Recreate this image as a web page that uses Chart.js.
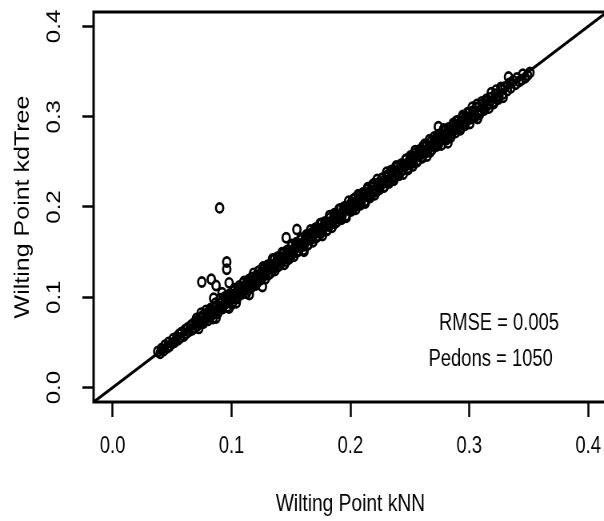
<!DOCTYPE html>
<html>
<head>
<meta charset="utf-8">
<script src="https://cdn.jsdelivr.net/npm/chart.js@4/dist/chart.umd.min.js"></script>
<style>
  html, body { margin: 0; padding: 0; background: #fff; }
  #wrap { width: 604px; height: 521px; overflow: hidden; position: relative; }
</style>
</head>
<body>
<!-- the reference is squeezed sideways, so draw wide and shrink it -->
<div id="wrap"><canvas id="chart" width="775" height="521" style="width:620px;height:521px;display:block"></canvas></div>
<script>
// axis ranges and ticks (R style, 4% padding around 0..0.4)
const xMin = -0.016, xMax = 0.416;
const yMin = -0.016, yMax = 0.416;
const xTicks = [0.0, 0.1, 0.2, 0.3, 0.4];
const yTicks = [0.0, 0.1, 0.2, 0.3, 0.4];

// wilting point, kNN (x) vs kdTree (y)
const kNN = [
  0.038,0.040,0.041,0.043,0.044,0.046,0.047,0.048,0.050,0.051,0.052,0.054,0.055,0.056,0.057,0.058,0.060,0.061,0.062,0.063,0.064,0.066,0.067,0.068,0.069,
  0.070,0.071,0.072,0.073,0.074,0.075,0.076,0.077,0.078,0.079,0.080,0.081,0.082,0.083,0.084,0.085,0.086,0.087,0.088,0.089,0.090,0.091,0.092,0.093,0.094,0.095,0.096,0.097,0.098,0.099,
  0.100,0.101,0.102,0.103,0.104,0.105,0.106,0.107,0.108,0.109,0.110,0.111,0.112,0.113,0.114,0.115,0.116,0.117,0.118,0.119,
  0.120,0.121,0.122,0.123,0.124,0.125,0.126,0.127,0.128,0.129,0.130,0.131,0.132,0.133,0.134,0.135,0.136,0.137,0.138,0.139,
  0.140,0.141,0.142,0.143,0.144,0.145,0.146,0.147,0.148,0.149,0.150,0.151,0.152,0.153,0.154,0.155,0.156,0.157,0.158,0.159,
  0.160,0.161,0.162,0.163,0.164,0.165,0.166,0.167,0.168,0.169,0.170,0.171,0.172,0.173,0.174,0.175,0.176,0.177,0.178,0.179,
  0.180,0.181,0.182,0.183,0.184,0.185,0.186,0.187,0.188,0.189,0.190,0.191,0.192,0.193,0.194,0.195,0.196,0.197,0.198,0.199,
  0.200,0.201,0.202,0.203,0.204,0.205,0.206,0.207,0.208,0.209,0.210,0.211,0.212,0.213,0.214,0.215,0.216,0.217,0.218,0.219,
  0.220,0.221,0.222,0.223,0.224,0.225,0.226,0.227,0.228,0.229,0.230,0.231,0.232,0.233,0.234,0.235,0.236,0.237,0.238,0.239,
  0.240,0.241,0.242,0.243,0.244,0.245,0.246,0.247,0.248,0.249,0.250,0.251,0.252,0.253,0.254,0.255,0.256,0.257,0.258,0.259,
  0.260,0.261,0.262,0.263,0.264,0.265,0.266,0.267,0.268,0.269,0.270,0.271,0.272,0.273,0.274,0.275,0.276,0.277,0.278,0.279,
  0.280,0.281,0.282,0.283,0.284,0.285,0.286,0.287,0.288,0.289,0.290,0.291,0.292,0.293,0.294,0.295,0.296,0.297,0.298,0.299,
  0.300,0.302,0.303,0.305,0.306,0.308,0.309,0.311,0.312,0.314,0.315,0.317,0.318,0.320,0.322,0.323,0.325,0.327,0.328,0.330,
  0.332,0.334,0.335,0.337,0.339,0.340,0.342,0.344,0.345,0.347,0.349,0.351
];
const kdTree = [
  0.040,0.038,0.043,0.041,0.047,0.044,0.050,0.046,0.049,0.054,0.050,0.056,0.053,0.059,0.055,0.061,0.057,0.064,0.060,0.066,0.062,0.069,0.064,0.071,0.066,
  0.073,0.068,0.075,0.071,0.077,0.072,0.080,0.074,0.076,0.082,0.078,0.084,0.080,0.086,0.081,0.083,0.089,0.085,0.091,0.087,0.093,0.088,0.095,0.090,0.092,0.098,0.094,0.100,0.096,0.097,
  0.103,0.099,0.107,0.099,0.105,0.100,0.110,0.106,0.110,0.106,0.116,0.108,0.112,0.117,0.108,0.117,0.114,0.122,0.114,0.120,
  0.119,0.124,0.117,0.129,0.122,0.127,0.122,0.131,0.128,0.126,0.135,0.125,0.133,0.136,0.133,0.131,0.142,0.135,0.140,0.134,
  0.144,0.141,0.139,0.144,0.149,0.143,0.140,0.150,0.147,0.151,0.146,0.157,0.149,0.154,0.158,0.150,0.156,0.159,0.156,0.164,
  0.159,0.157,0.165,0.169,0.158,0.166,0.164,0.171,0.165,0.171,0.175,0.166,0.172,0.176,0.173,0.171,0.182,0.175,0.179,0.183,
  0.174,0.183,0.179,0.188,0.184,0.183,0.189,0.182,0.192,0.188,0.191,0.187,0.198,0.190,0.196,0.200,0.190,0.197,0.201,0.197,
  0.198,0.205,0.197,0.204,0.210,0.202,0.208,0.206,0.213,0.205,0.210,0.214,0.206,0.215,0.212,0.220,0.217,0.213,0.222,0.216,
  0.226,0.220,0.217,0.225,0.227,0.223,0.226,0.232,0.222,0.230,0.227,0.235,0.234,0.228,0.240,0.234,0.232,0.240,0.238,0.237,
  0.245,0.235,0.243,0.247,0.241,0.247,0.245,0.253,0.243,0.249,0.253,0.249,0.256,0.249,0.255,0.260,0.250,0.259,0.257,0.262,
  0.255,0.267,0.262,0.260,0.268,0.263,0.267,0.261,0.273,0.268,0.272,0.267,0.275,0.279,0.269,0.275,0.274,0.281,0.279,0.276,
  0.285,0.280,0.276,0.286,0.286,0.281,0.290,0.287,0.286,0.295,0.287,0.292,0.287,0.295,0.299,0.294,0.292,0.300,0.298,0.297,
  0.304,0.298,0.306,0.301,0.310,0.305,0.307,0.314,0.309,0.317,0.312,0.315,0.321,0.316,0.325,0.320,0.323,0.330,0.325,0.333,
  0.329,0.337,0.332,0.340,0.336,0.343,0.339,0.341,0.347,0.343,0.346,0.349
];
// pedons on the outer edges of the band
const edgeKNN = [
  0.0705,0.0725,0.0745,0.0765,0.0785,0.0805,0.0825,0.0845,0.0865,0.0885,
  0.0905,0.0925,0.0945,0.0965,0.0985,0.1005,0.1025,0.1045,0.1065,0.1085,
  0.1105,0.1125,0.1145,0.1165,0.1185,0.1205,0.1225,0.1245,0.1265,0.1285,
  0.1305,0.1325,0.1345,0.1365,0.1385,0.1405,0.1425,0.1445,0.1465,0.1485,
  0.1505,0.1525,0.1545,0.1565,0.1585,0.1605,0.1625,0.1645,0.1665,0.1685,
  0.1705,0.1725,0.1745,0.1765,0.1785,0.1805,0.1825,0.1845,0.1865,0.1885,
  0.1905,0.1925,0.1945,0.1965,0.1985,0.2005,0.2025,0.2045,0.2065,0.2085,
  0.2105,0.2125,0.2145,0.2165,0.2185,0.2205,0.2225,0.2245,0.2265,0.2285,
  0.2305,0.2325,0.2345,0.2365,0.2385,0.2405,0.2425,0.2445,0.2465,0.2485,
  0.2505,0.2525,0.2545,0.2565,0.2585,0.2605,0.2625,0.2645,0.2665,0.2685,
  0.2705,0.2725,0.2745,0.2765,0.2785,0.2805,0.2825,0.2845,0.2865,0.2885,
  0.2905,0.2925,0.2945,0.2965,0.2985,0.3005,0.3025,0.3045,0.3065,0.3085,
  0.3105,0.3125,0.3145,0.3165,0.3185,0.3205,0.3225,0.3245,0.3265,0.3285
];
const edgeKdTree = [
  0.0765,0.0655,0.0825,0.0715,0.0855,0.0745,0.0875,0.0765,0.0935,0.0825,
  0.0985,0.0875,0.1005,0.0895,0.1035,0.0925,0.1095,0.0985,0.1125,0.1035,
  0.1175,0.1045,0.1195,0.1105,0.1265,0.1135,0.1285,0.1195,0.1335,0.1205,
  0.1355,0.1265,0.1425,0.1295,0.1445,0.1355,0.1495,0.1365,0.1515,0.1425,
  0.1585,0.1455,0.1605,0.1515,0.1655,0.1525,0.1675,0.1585,0.1745,0.1615,
  0.1765,0.1675,0.1815,0.1685,0.1835,0.1745,0.1905,0.1775,0.1925,0.1835,
  0.1975,0.1865,0.1995,0.1885,0.2065,0.1955,0.2085,0.1975,0.2135,0.2025,
  0.2155,0.2045,0.2215,0.2105,0.2245,0.2135,0.2305,0.2195,0.2315,0.2225,
  0.2385,0.2265,0.2405,0.2295,0.2455,0.2355,0.2475,0.2365,0.2525,0.2415,
  0.2565,0.2455,0.2625,0.2515,0.2635,0.2545,0.2695,0.2565,0.2745,0.2635,
  0.2775,0.2675,0.2805,0.2685,0.2865,0.2745,0.2875,0.2775,0.2925,0.2825,
  0.2955,0.2855,0.3015,0.2905,0.3045,0.2925,0.3105,0.2995,0.3135,0.3025,
  0.3165,0.3075,0.3195,0.3095,0.3265,0.3145,0.3295,0.3195,0.3325,0.3215
];
// points well off the band
const outlierKNN    = [0.090,0.096,0.096,0.075,0.083,0.087,0.098,0.085,0.087,0.098,0.115,0.126,0.146,0.155,0.161,0.274,0.282,0.307,0.333,0.092,0.104];
const outlierKdTree = [0.199,0.139,0.131,0.117,0.120,0.113,0.116,0.099,0.077,0.088,0.103,0.112,0.166,0.175,0.151,0.289,0.271,0.298,0.344,0.105,0.094];

// 1:1 line ends (clipped to the plot box)
const oneToOne = [-0.05, 0.45];

const noteText = ["RMSE = 0.005", "Pedons = 1050"];
const noteX = [0.325, 0.318];
const noteY = [0.071, 0.031];

const FONT = "'Liberation Sans', Arial, Helvetica, sans-serif";

const allX = kNN.concat(edgeKNN, outlierKNN);
const allY = kdTree.concat(edgeKdTree, outlierKdTree);
const points = allX.map((x, i) => ({ x: x, y: allY[i] }));

// box round the plot, like R's box()
const boxPlugin = {
  id: "box",
  afterDatasetsDraw(chart) {
    const a = chart.chartArea, ctx = chart.ctx;
    ctx.save();
    ctx.strokeStyle = "#000";
    ctx.lineWidth = 3;
    ctx.strokeRect(a.left, a.top, a.right - a.left, a.bottom - a.top);
    ctx.restore();
  }
};

// rotated y tick labels and the two notes
const textPlugin = {
  id: "texts",
  afterDraw(chart) {
    const ctx = chart.ctx, ys = chart.scales.y, xs = chart.scales.x;
    ctx.save();
    ctx.fillStyle = "#000";
    ctx.textAlign = "center";
    ctx.textBaseline = "middle";
    ctx.font = "24px " + FONT;
    ys.ticks.forEach(t => {
      ctx.save();
      ctx.translate(ys.right - 49, ys.getPixelForValue(t.value));
      ctx.rotate(-Math.PI / 2);
      ctx.fillText(t.value.toFixed(1), 0, 0);
      ctx.restore();
    });
    ctx.font = "23px " + FONT;
    noteText.forEach((s, i) => {
      ctx.fillText(s, xs.getPixelForValue(noteX[i]), ys.getPixelForValue(noteY[i]));
    });
    ctx.restore();
  }
};

new Chart(document.getElementById("chart"), {
  type: "scatter",
  data: {
    datasets: [
      {
        type: "line",
        data: oneToOne.map(v => ({ x: v, y: v })),
        borderColor: "#000",
        borderWidth: 3.2,
        pointRadius: 0,
        clip: 0,
        order: 0
      },
      {
        data: points,
        pointStyle: "circle",
        pointRadius: 4.6,
        pointBorderWidth: 2.7,
        borderColor: "#000",
        backgroundColor: "rgba(0,0,0,0)",
        order: 1
      }
    ]
  },
  options: {
    responsive: false,
    devicePixelRatio: 1,
    animation: false,
    layout: { padding: { left: 0, top: 12, right: 16, bottom: 0 } },
    plugins: { legend: { display: false }, tooltip: { enabled: false } },
    scales: {
      x: {
        type: "linear",
        min: xMin,
        max: xMax,
        afterBuildTicks: s => { s.ticks = xTicks.map(v => ({ value: v })); },
        afterFit: s => { s.height = 119; },
        border: { display: false },
        grid: { display: true, drawOnChartArea: false, drawTicks: true, tickLength: 15, tickWidth: 2.5, tickColor: "#000", color: "#000" },
        ticks: { color: "#000", padding: 16, autoSkip: false, maxRotation: 0, minRotation: 0,
                 font: { family: FONT, size: 23 }, callback: v => v.toFixed(1) },
        title: { display: true, text: "Wilting Point kNN", color: "#000",
                 font: { family: FONT, size: 24 }, padding: { top: 0, bottom: 2 } }
      },
      y: {
        type: "linear",
        min: yMin,
        max: yMax,
        afterBuildTicks: s => { s.ticks = yTicks.map(v => ({ value: v })); },
        afterFit: s => { s.width = 117; },
        border: { display: false },
        grid: { display: true, drawOnChartArea: false, drawTicks: true, tickLength: 14, tickWidth: 2.5, tickColor: "#000", color: "#000" },
        ticks: { display: false },
        title: { display: true, text: "Wilting Point kdTree", color: "#000",
                 font: { family: FONT, size: 25 }, padding: { top: 14, bottom: 0 } }
      }
    }
  },
  plugins: [boxPlugin, textPlugin]
});
</script>
</body>
</html>
